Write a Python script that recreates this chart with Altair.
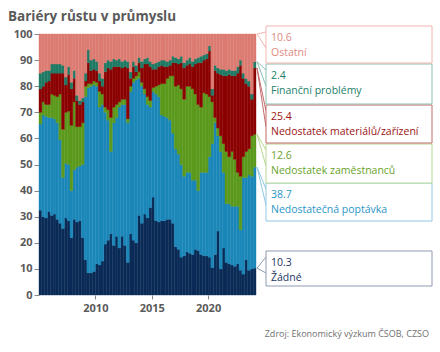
import altair as alt
import pandas as pd

# ---------------- data (quarterly, 2005Q1 .. 2024Q1), shares in % ----------------
start_year = 2005
n_quarters = 77

zadne = [32.5, 30, 29.5, 32, 30.5, 31, 29, 27.5, 25.5, 29.5,
         28.5, 22, 29, 28, 28.5, 22, 13.5, 8.5, 8.5, 9,
         12, 11.5, 13, 19.5, 21, 23.5, 19, 22.5, 18, 22.5,
         19, 12.5, 23.5, 21, 20, 30.5, 27.5, 31, 29.5, 33.5,
         37.5, 28.5, 28, 28.5, 28.5, 29, 29, 27.5, 18.5, 17.5,
         14.5, 15, 16.5, 16, 15.5, 17.5, 17, 15.5, 15, 15,
         14.5, 10.5, 15.5, 24.5, 10, 18, 12.5, 12, 11.5, 11,
         12, 9.5, 8, 13.5, 9.5, 10, 10.3]

poptavka = [33, 39, 39, 36, 37.5, 36.5, 37, 32, 19.5, 21,
            21.5, 18, 19, 21, 21, 28, 62.5, 71, 71.5, 71.5,
            68, 60.5, 60, 50.5, 46, 31.5, 47, 45.5, 54, 50.5,
            54, 53.5, 54.5, 60.5, 62.5, 52.5, 52.5, 46, 43.5, 38.5,
            40.5, 48.5, 48, 40.5, 40, 39, 38, 34.5, 37.5, 36.5,
            35.5, 30.5, 30.5, 31, 28.5, 26.5, 23, 31.5, 32, 32,
            38.5, 47.5, 50.5, 36.5, 45, 29, 22.5, 23, 22.5, 23,
            22, 15.5, 37, 31.5, 36.5, 35.5, 38.7]

zamestnanci = [4.5, 5, 4.5, 5, 9, 9, 10, 17.5, 18.5, 19.5,
               20.5, 25, 26, 15.5, 15, 16, 4, 1.5, 1, 1.5,
               1.5, 6, 4, 2, 4, 13, 6, 5, 2, 2,
               2, 1.5, 2, 1.5, 1.5, 2.5, 1.5, 2, 3, 2.5,
               1.5, 3, 4.5, 12, 12.5, 15, 17, 22, 24, 26.5,
               29, 29.5, 33, 33, 35, 33, 33, 25, 30.5, 30,
               23, 16, 2, 3, 6, 11, 20, 18, 21, 18,
               13, 20.5, 8, 10, 10, 15.5, 12.6]

materialy = [9, 6, 8.5, 9, 8, 8.5, 9, 8, 21.5, 10.5,
             14, 14, 9, 10, 8.5, 8, 2, 8, 5, 4.5,
             4.5, 4, 3, 13.5, 16, 18.5, 15.5, 14.5, 13.5, 12,
             12.5, 19.5, 3, 4.5, 1.5, 3.5, 5.5, 9.5, 12.5, 13,
             7, 6.5, 7, 7, 6.5, 4.5, 4, 5, 9, 8,
             10, 12, 8, 8.5, 8.5, 11.5, 16, 17, 12.5, 13.5,
             17.5, 2.5, 18, 21, 23.5, 26, 29, 31.5, 29, 32,
             38, 42.5, 30, 26, 24, 14, 25.4]

financni = [6, 5.5, 4.5, 4, 3.5, 3.5, 3.5, 3.5, 3, 3,
            3, 2.5, 3, 2, 1.5, 1.5, 3, 5, 4, 4,
            3.5, 3, 3, 3.5, 3, 3, 3, 2.5, 3, 2.5,
            2.5, 2.5, 2.5, 2, 2.5, 2, 2.5, 2, 2.5, 2,
            2, 2.5, 2, 2, 2.5, 2, 2, 2.5, 2, 2,
            2.5, 2, 2, 2.5, 2, 2, 2, 2.5, 2, 2,
            2, 2.5, 2, 2, 2, 2.5, 2, 2, 2, 2,
            2.5, 2, 2, 2, 2, 2, 2.4]

ostatni = [15, 14.5, 14, 14, 11.5, 11.5, 11.5, 11.5, 12, 16.5,
           12.5, 18.5, 14, 23.5, 25.5, 24.5, 15, 6, 10, 9.5,
           10.5, 15, 17, 11, 10, 10.5, 9.5, 10, 9.5, 10.5,
           10, 10.5, 14.5, 10.5, 12, 9, 10.5, 9.5, 9, 10.5,
           11.5, 11, 10.5, 10, 10, 10.5, 10, 8.5, 9, 9.5,
           8.5, 11, 10, 9, 10.5, 9.5, 9, 8.5, 8, 7.5,
           4.5, 21, 12, 13, 13.5, 13.5, 14, 13.5, 14, 14,
           12.5, 10, 15, 17, 18, 23, 10.6]

names = ["Žádné", "Nedostatečná poptávka", "Nedostatek zaměstnanců",
         "Nedostatek materiálů/zařízení", "Finanční problémy", "Ostatní"]
series = [zadne, poptavka, zamestnanci, materialy, financni, ostatni]

bar_colors = ["#0b2b57", "#1b87b8", "#5b991c", "#8b0000", "#1e7a64", "#dc7b72"]
text_colors = ["#1d3461", "#2c96c9", "#6aa32c", "#9b1515", "#23806a", "#e08a82"]
border_colors = ["#8d9bb3", "#8fc8e2", "#b7d793", "#c46a6a", "#8cbfb2", "#f0b5af"]

# ---------------- long table ----------------
rows = []
for s_idx, (nm, vals) in enumerate(zip(names, series)):
    for k in range(n_quarters):
        t = start_year + (k // 4) + (k % 4) / 4
        rows.append({"t": t, "t2": t + 0.25, "series": nm, "order": s_idx, "value": vals[k]})
df = pd.DataFrame(rows)

FONT = "Open Sans"
W, H = 217, 261
PAD_L, PAD_T = 39, 34

color_scale = alt.Scale(domain=names, range=bar_colors)

bars = alt.Chart(df).transform_stack(
    stack="value", groupby=["t"], as_=["y0", "y1"], sort=[alt.SortField("order", order="ascending")]
).mark_rect(strokeWidth=0.4).encode(
    x=alt.X("t:Q", scale=alt.Scale(domain=[2005, 2024.25], nice=False, zero=False),
            axis=alt.Axis(values=[2010, 2015, 2020], format="d", title=None, grid=False,
                          domain=False, tickSize=4, tickColor="#888", labelFont=FONT,
                          labelFontSize=11, labelFontWeight="bold", labelColor="#5a5a5a",
                          labelPadding=3)),
    x2="t2:Q",
    y=alt.Y("y0:Q", scale=alt.Scale(domain=[0, 100], nice=False),
            axis=alt.Axis(values=list(range(0, 101, 10)), title=None, grid=False,
                          domain=False, tickSize=5, tickColor="#888", labelFont=FONT,
                          labelFontSize=11, labelFontWeight="bold", labelColor="#5a5a5a",
                          labelPadding=2, labelOverlap=False)),
    y2="y1:Q",
    color=alt.Color("series:N", scale=color_scale, legend=None),
    stroke=alt.Stroke("series:N", scale=color_scale, legend=None),
)

dummy = pd.DataFrame({"a": [0]})
layers = [bars]

# title
layers.append(alt.Chart(dummy).mark_text(
    text="Bariéry růstu v průmyslu", align="left", baseline="middle", font=FONT,
    fontSize=13.5, fontWeight="bold", color="#5a5a5a"
).encode(x=alt.value(8 - PAD_L), y=alt.value(17 - PAD_T)))

# source
layers.append(alt.Chart(dummy).mark_text(
    text="Zdroj: Ekonomický výzkum ČSOB, CZSO", align="right", baseline="middle", font=FONT,
    fontSize=9, color="#707070"
).encode(x=alt.value(429 - PAD_L), y=alt.value(334 - PAD_T)))

# annotation boxes (top, bottom in page pixels) for each series
box_tb = {
    "Ostatní": (26, 63),
    "Finanční problémy": (64, 104),
    "Nedostatek materiálů/zařízení": (105, 143),
    "Nedostatek zaměstnanců": (144, 183),
    "Nedostatečná poptávka": (183, 221),
    "Žádné": (251, 286),
}
box_left, box_right = 266 - PAD_L, 432 - PAD_L

cum = 0
for s_idx, (nm, vals) in enumerate(zip(names, series)):
    last = vals[-1]
    cum += last
    top, bot = box_tb[nm]
    top -= PAD_T
    bot -= PAD_T
    point_y = H * (1 - min(cum, 100) / 100)
    for attach in (top + 6, top + 22):
        layers.append(alt.Chart(dummy).mark_rule(color=border_colors[s_idx], strokeWidth=1).encode(
            x=alt.value(W + 1), y=alt.value(point_y),
            x2=alt.value(box_left), y2=alt.value(attach)))
    layers.append(alt.Chart(dummy).mark_rect(fill="white", stroke=border_colors[s_idx],
                                             strokeWidth=1).encode(
        x=alt.value(box_left), x2=alt.value(box_right), y=alt.value(top), y2=alt.value(bot)))
    layers.append(alt.Chart(dummy).mark_text(
        text=f"{last:.1f}", align="left", baseline="middle", font=FONT, fontSize=10.5,
        color=text_colors[s_idx]).encode(x=alt.value(box_left + 5), y=alt.value(top + 12)))
    layers.append(alt.Chart(dummy).mark_text(
        text=nm, align="left", baseline="middle", font=FONT, fontSize=10.5,
        color=text_colors[s_idx]).encode(x=alt.value(box_left + 5), y=alt.value(top + 27)))

chart = alt.layer(*layers).properties(
    width=W, height=H,
    padding={"left": PAD_L, "top": PAD_T, "right": 440 - PAD_L - W, "bottom": 352 - PAD_T - H},
    autosize=alt.AutoSizeParams(type="none"),
    background="white",
).configure_view(stroke=None)

chart.save("out.html", embed_options={"renderer": "svg", "actions": False})
